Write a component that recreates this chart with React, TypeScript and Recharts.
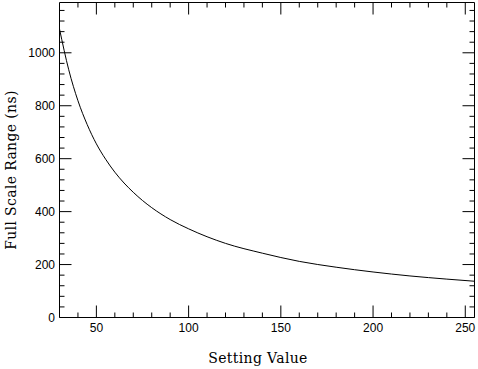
import React from "react";
import { LineChart, Line, XAxis, YAxis, ReferenceArea } from "recharts";

// values
const settingValues = [30, 35, 40, 45, 50, 55, 60, 65, 70, 75, 80, 90, 100, 120, 140, 160, 180, 200, 220, 240, 255];
const fullScaleRange = [1090, 936, 819, 729, 656, 598, 549, 508, 473, 442, 415, 370, 335, 280, 243, 212, 190, 172, 157, 145, 137];

const xTicks = [40, 50, 60, 70, 80, 90, 100, 110, 120, 130, 140, 150, 160, 170, 180, 190, 200, 210, 220, 230, 240, 250];
const yTicks = [
  0, 40, 80, 120, 160, 200, 240, 280, 320, 360, 400, 440, 480, 520, 560, 600, 640, 680, 720, 760, 800, 840,
  880, 920, 960, 1000, 1040, 1080, 1120, 1160,
];

const X_MIN = 30;
const X_MAX = 255;
const Y_MAX = 1190;

const WIDTH = 478;
const HEIGHT = 369;
const PLOT = { left: 59.5, right: 474.5, top: 2.5, bottom: 317.5 };

const data = settingValues.map((s, i) => ({ setting: s, range: fullScaleRange[i] }));

const tickFont = { fontFamily: "'Liberation Sans', Arial, sans-serif", fontSize: 12, fill: "#000" };
const titleFont = { fontFamily: "'DejaVu Serif', serif", fontSize: 14, fill: "#000", letterSpacing: 0.35 };

function YTick(props: any) {
  const { y, payload } = props;
  const v = payload.value;
  const major = v % 200 === 0;
  const len = major ? 12 : 5;
  return (
    <g>
      <line x1={PLOT.left} x2={PLOT.left + len} y1={y} y2={y} stroke="#000" />
      <line x1={PLOT.right - len} x2={PLOT.right} y1={y} y2={y} stroke="#000" />
      {major && (
        <text x={55} y={y} textAnchor="end" dominantBaseline="central" {...tickFont}>
          {v}
        </text>
      )}
    </g>
  );
}

function XTick(props: any) {
  const { x, payload } = props;
  const v = payload.value;
  const major = v % 50 === 0;
  const len = major ? 12 : 5;
  return (
    <g>
      <line x1={x} x2={x} y1={PLOT.bottom} y2={PLOT.bottom - len} stroke="#000" />
      <line x1={x} x2={x} y1={PLOT.top} y2={PLOT.top + len} stroke="#000" />
      {major && (
        <text x={x} y={331.5} textAnchor="middle" {...tickFont}>
          {v}
        </text>
      )}
    </g>
  );
}

const xTitle = () => (
  <text x={258} y={363} textAnchor="middle" {...titleFont}>
    Setting Value
  </text>
);

const yTitle = () => (
  <text x={16} y={170} textAnchor="middle" transform="rotate(-90 16 170)" {...titleFont}>
    Full Scale Range (ns)
  </text>
);

export default function App() {
  return (
    <div style={{ position: "absolute", left: 0, top: 0, background: "#fff" }}>
      <LineChart
        width={WIDTH}
        height={HEIGHT}
        data={data}
        margin={{ top: 2.5, right: 3.5, bottom: 0.5, left: 0.5 }}
      >
        <XAxis
          dataKey="setting"
          type="number"
          domain={[X_MIN, X_MAX]}
          allowDataOverflow
          ticks={xTicks}
          interval={0}
          height={51}
          axisLine={false}
          tickLine={false}
          tick={XTick}
          label={xTitle}
        />
        <YAxis
          type="number"
          domain={[0, Y_MAX]}
          allowDataOverflow
          ticks={yTicks}
          interval={0}
          width={59}
          axisLine={false}
          tickLine={false}
          tick={YTick}
          label={yTitle}
        />
        <ReferenceArea x1={X_MIN} x2={X_MAX} y1={0} y2={Y_MAX} fill="none" stroke="#000" strokeWidth={1} />
        <Line
          type="monotone"
          dataKey="range"
          stroke="#000"
          strokeWidth={1}
          dot={false}
          isAnimationActive={false}
        />
      </LineChart>
    </div>
  );
}
